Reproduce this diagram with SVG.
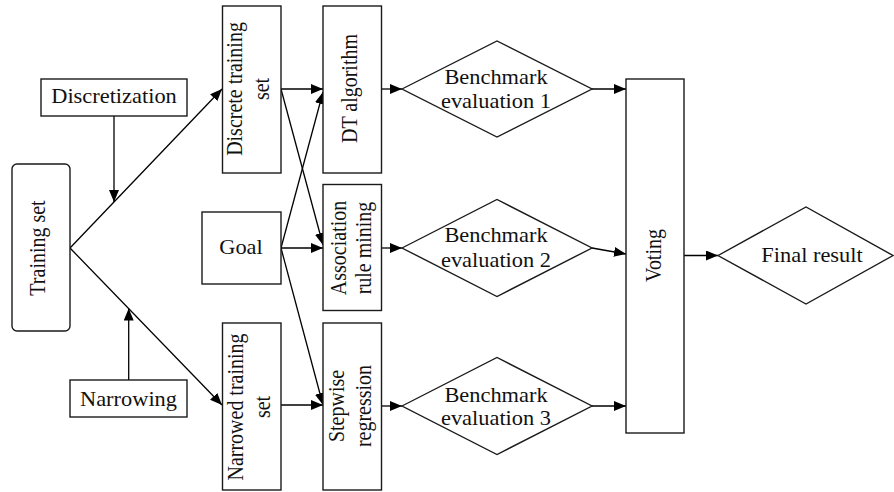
<svg xmlns="http://www.w3.org/2000/svg" width="894" height="492" viewBox="0 0 894 492" font-family="'Liberation Serif', 'Times New Roman', Times, serif">
<style>
.box{fill:#fff;stroke:#1a1a1a;stroke-width:1.4}
.ln{fill:none;stroke:#000;stroke-width:1.3;marker-end:url(#ah)}
.t{font-family:'Liberation Serif','Times New Roman',Times,serif;font-size:20px;fill:#111;text-anchor:middle}
</style>
<defs>
<marker id="ah" markerUnits="userSpaceOnUse" markerWidth="13" markerHeight="10" refX="12" refY="5" orient="auto">
<path d="M0,0 L12,5 L0,10 z" fill="#000"/>
</marker>
</defs>
<rect width="894" height="492" fill="#fff"/>
<g id="connectors">
<line class="ln" x1="70" y1="248" x2="222" y2="89"/>
<line class="ln" x1="70" y1="248" x2="222" y2="405"/>
<line class="ln" x1="114" y1="116" x2="114" y2="202"/>
<line class="ln" x1="128.7" y1="380" x2="128.7" y2="308.5"/>
<line class="ln" x1="281" y1="89" x2="323" y2="89"/>
<line class="ln" x1="281" y1="89" x2="323" y2="245"/>
<line class="ln" x1="281" y1="248" x2="323" y2="92"/>
<line class="ln" x1="281" y1="248" x2="323" y2="248"/>
<line class="ln" x1="281" y1="248" x2="323" y2="405"/>
<line class="ln" x1="281" y1="405" x2="323" y2="405"/>
<line class="ln" x1="381" y1="89" x2="402" y2="89"/>
<line class="ln" x1="381" y1="248" x2="402" y2="248"/>
<line class="ln" x1="381" y1="406" x2="402" y2="406"/>
<line class="ln" x1="592" y1="89" x2="626" y2="89"/>
<line class="ln" x1="592" y1="248" x2="626" y2="254"/>
<line class="ln" x1="592" y1="406" x2="626" y2="406"/>
<line class="ln" x1="684" y1="255.5" x2="718" y2="255.5"/>
</g>
<g id="training-set">
<rect class="box" x="12" y="164" width="58" height="167" rx="5"/>
<text class="t" transform="translate(45,248) rotate(-90) scale(1,1.12)">Training set</text>
</g>
<g id="discretization">
<rect class="box" x="41" y="79" width="146" height="37"/>
<text class="t" transform="translate(114,103) scale(1.12,1)">Discretization</text>
</g>
<g id="narrowing">
<rect class="box" x="70" y="380" width="117" height="37"/>
<text class="t" transform="translate(128.5,405.5) scale(1.12,1)">Narrowing</text>
</g>
<g id="discrete-training-set">
<rect class="box" x="222.5" y="6" width="58.5" height="167"/>
<text class="t" transform="translate(242,89) rotate(-90) scale(1,1.12)">Discrete training</text>
<text class="t" transform="translate(269,89) rotate(-90) scale(1,1.12)">set</text>
</g>
<g id="goal">
<rect class="box" x="202" y="212" width="79" height="72"/>
<text class="t" transform="translate(241,254) scale(1.12,1)">Goal</text>
</g>
<g id="narrowed-training-set">
<rect class="box" x="222.5" y="323" width="58.5" height="167"/>
<text class="t" transform="translate(242.5,407) rotate(-90) scale(1,1.12)">Narrowed training</text>
<text class="t" transform="translate(269.5,407) rotate(-90) scale(1,1.12)">set</text>
</g>
<g id="dt-algorithm">
<rect class="box" x="323" y="6" width="58.5" height="167"/>
<text class="t" transform="translate(356.5,88.5) rotate(-90) scale(1,1.12)">DT algorithm</text>
</g>
<g id="association-rule-mining">
<rect class="box" x="323" y="184.5" width="58.5" height="126"/>
<text class="t" transform="translate(346,248) rotate(-90) scale(1,1.12)">Association</text>
<text class="t" transform="translate(371,248) rotate(-90) scale(1,1.12)">rule mining</text>
</g>
<g id="stepwise-regression">
<rect class="box" x="323" y="323" width="58.5" height="167"/>
<text class="t" transform="translate(343.5,406) rotate(-90) scale(1,1.12)">Stepwise</text>
<text class="t" transform="translate(370.5,406) rotate(-90) scale(1,1.12)">regression</text>
</g>
<g id="benchmark-1">
<polygon class="box" points="402,89 497,41 592,89 497,137"/>
<text class="t" transform="translate(496,83.5) scale(1.12,1)">Benchmark</text>
<text class="t" transform="translate(496,107.5) scale(1.12,1)">evaluation 1</text>
</g>
<g id="benchmark-2">
<polygon class="box" points="402,248 497,199.5 592,248 497,296.5"/>
<text class="t" transform="translate(496,241.7) scale(1.12,1)">Benchmark</text>
<text class="t" transform="translate(496,266.5) scale(1.12,1)">evaluation 2</text>
</g>
<g id="benchmark-3">
<polygon class="box" points="402,406 497,357.5 592,406 497,454.5"/>
<text class="t" transform="translate(496,401.7) scale(1.12,1)">Benchmark</text>
<text class="t" transform="translate(496,424.5) scale(1.12,1)">evaluation 3</text>
</g>
<g id="voting">
<rect class="box" x="626" y="79" width="58" height="354"/>
<text class="t" transform="translate(660.7,255.5) rotate(-90) scale(1,1.12)">Voting</text>
</g>
<g id="final-result">
<polygon class="box" points="718,255.5 806,207 893,255.5 806,304"/>
<text class="t" transform="translate(812,261.5) scale(1.12,1)">Final result</text>
</g>
</svg>
